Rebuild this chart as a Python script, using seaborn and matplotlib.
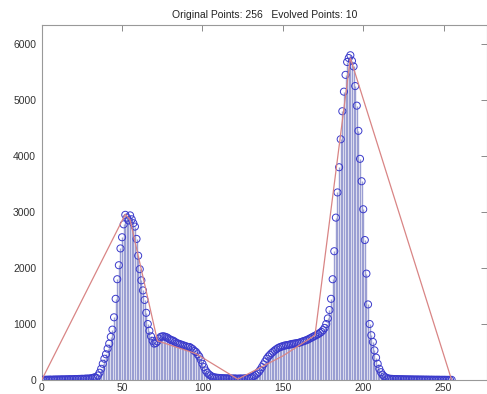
import seaborn as sns
import pandas as pd
import matplotlib.pyplot as plt
import numpy as np

# original histogram (256 bins, index 0..255)
counts_low = [5, 3, 4, 6, 5, 8, 6, 7, 9, 8, 10, 9, 11, 12, 10, 13, 12, 14, 15, 13,
              16, 18, 17, 19, 20, 22, 21, 24, 26, 25, 28, 32, 38, 50]
counts_left_peak = [40, 80, 130, 200, 290, 380, 460, 560, 650, 770,
                    900, 1120, 1450, 1800, 2050, 2350, 2550, 2780, 2950, 2900,
                    2850, 2940, 2870, 2800, 2740, 2520, 2220, 1980, 1780, 1600,
                    1430, 1200, 1000, 880, 780, 700, 650, 660, 690, 740,
                    770, 780, 780, 770, 760, 740, 720, 710, 700, 680,
                    660, 650, 640, 630, 620, 610, 600, 590, 590, 570,
                    550, 520, 500, 460, 420, 360, 290, 230, 170, 130,
                    100, 80, 60, 50, 45, 40]
counts_trough = [38, 35, 33, 32, 30, 30, 28, 29, 27, 26, 28, 25, 24, 26, 27, 25, 28, 30]
counts_right_peak = [30, 35, 42, 55, 70, 90, 115, 145, 185, 230,
                     280, 330, 380, 420, 450, 480, 505, 530, 550, 570,
                     585, 595, 605, 615, 620, 625, 630, 640, 645, 650,
                     655, 660, 665, 675, 685, 695, 705, 715, 730, 745,
                     760, 775, 790, 805, 820, 840, 860, 890, 930, 1000,
                     1100, 1250, 1450, 1800, 2300, 2900, 3350, 3800, 4300, 4800,
                     5150, 5450, 5680, 5750, 5800, 5700, 5600, 5250, 4900, 4450,
                     3950, 3550, 3050, 2500, 1900, 1350, 1000, 800, 680, 530,
                     400, 290, 200, 140, 95, 65, 45, 32]
counts_high = [25, 22, 20, 18, 17, 16, 15, 14, 14, 13, 12, 12, 11, 11, 10, 10, 9, 9, 9, 8,
               8, 8, 7, 7, 7, 6, 6, 6, 5, 5, 5, 5, 4, 4, 4, 4, 3, 3, 3, 3]

counts = counts_low + counts_left_peak + counts_trough + counts_right_peak + counts_high
bins = list(range(len(counts)))

# evolved polyline (10 points)
evolved_x = [0, 52, 55, 72, 96, 122, 150, 170, 192, 255]
evolved_y = [0, 2960, 2860, 700, 470, 15, 430, 800, 5750, 0]

hist = pd.DataFrame({"bin": bins, "count": counts})
evolved = pd.DataFrame({"x": evolved_x, "y": evolved_y})

sns.set_theme(style="white")
plt.rcParams['font.family'] = ['Liberation Sans', 'DejaVu Sans']

fig = plt.figure(figsize=(4.87, 3.94), dpi=100)
ax = fig.add_axes([0.0856, 0.0355, 0.9144, 0.901])

ax.vlines(hist["bin"], 0, hist["count"], color='#9a9ed2', lw=1.0, zorder=1)
sns.scatterplot(data=hist, x="bin", y="count", ax=ax, marker='o', s=26,
                facecolors='none', edgecolor='#3a3acb', linewidth=0.7, zorder=3)
sns.lineplot(data=evolved, x="x", y="y", ax=ax, color='#d98585', lw=0.9,
             sort=False, zorder=4)

ax.set_xlim(0, 277)
ax.set_ylim(0, 6340)
ax.set_xticks([0, 50, 100, 150, 200, 250])
ax.set_yticks([0, 1000, 2000, 3000, 4000, 5000, 6000])
ax.set_xlabel("")
ax.set_ylabel("")
ax.tick_params(direction='in', top=True, right=True, length=4, width=0.6,
               color='#777777', labelcolor='#333333', labelsize=7.5, pad=2)
ax.tick_params(axis='y', pad=4)
for s in ax.spines.values():
    s.set_color('#999999')
    s.set_linewidth(0.8)

ax.set_title("Original Points: 256   Evolved Points: 10", fontsize=7.5,
             color='#222222', pad=5)

plt.savefig('out.png', dpi=100)
